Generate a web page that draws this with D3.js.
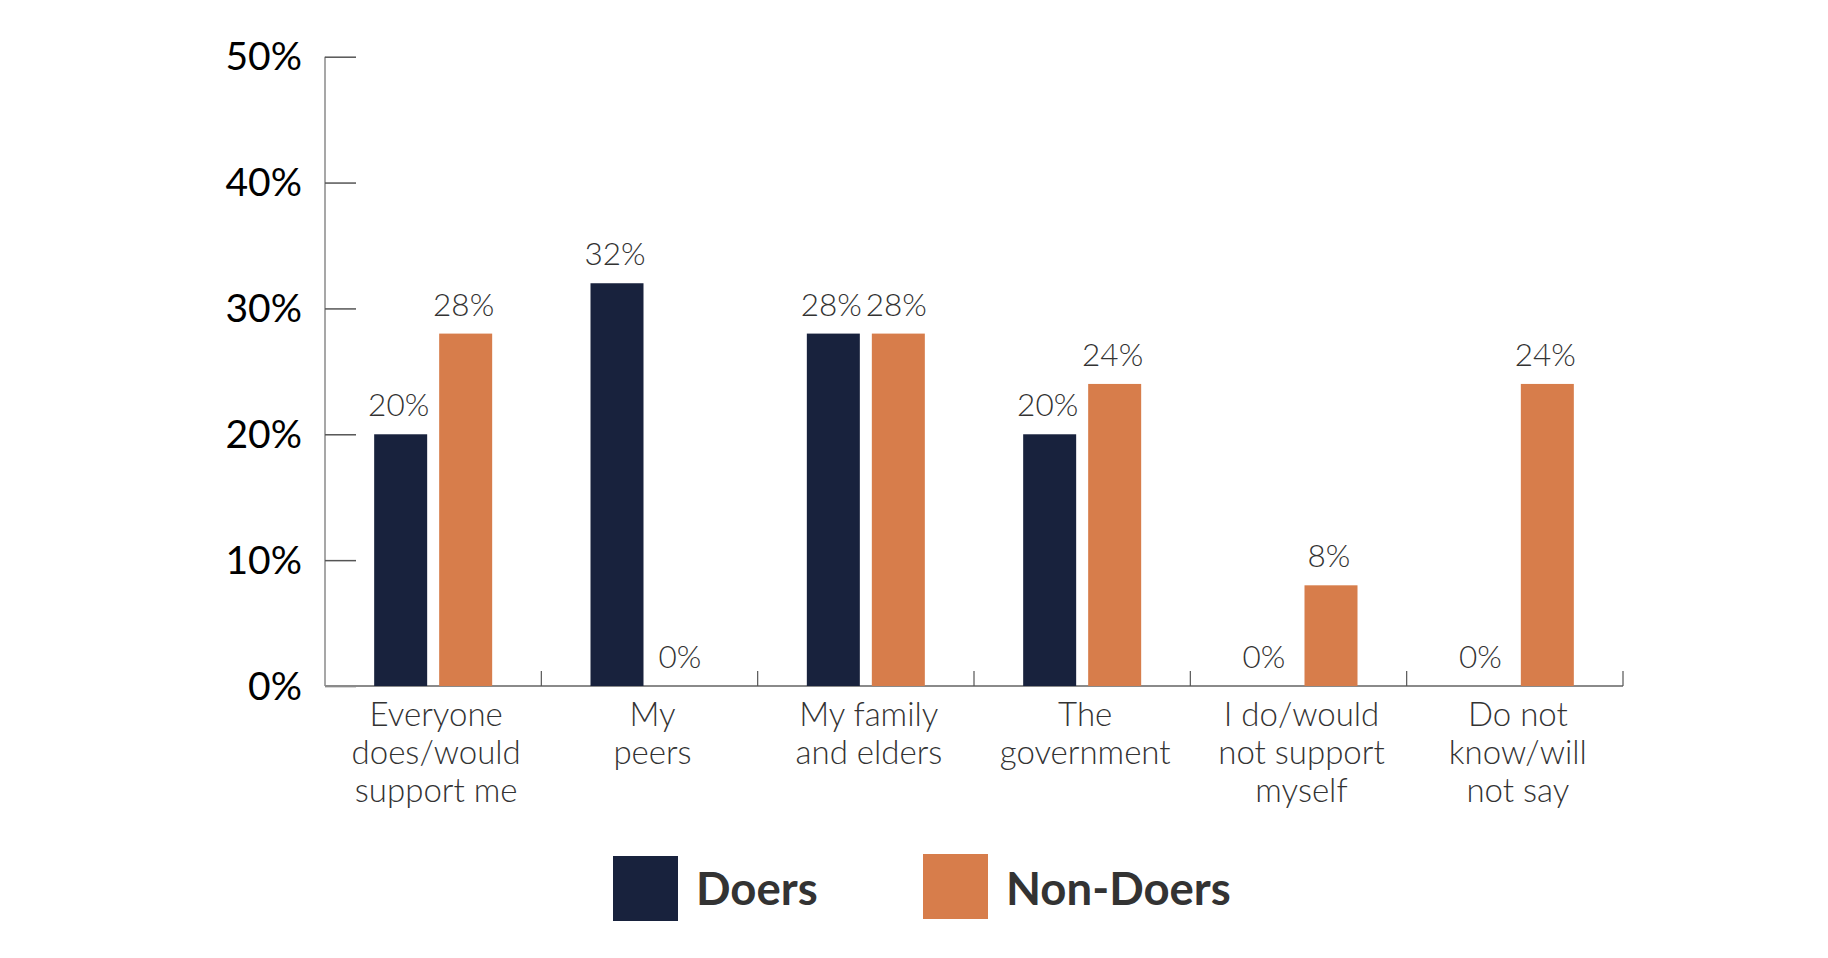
<!DOCTYPE html>
<html>
<head>
<meta charset="utf-8">
<script src="https://cdn.jsdelivr.net/npm/d3@7/dist/d3.min.js"></script>
<style>
  html, body { margin: 0; padding: 0; background: #fff; }
  svg { display: block; font-family: Lato, "Open Sans", sans-serif; }
</style>
</head>
<body>
<svg id="chart" width="1828" height="958"></svg>
<script>
const categories = [
  ["Everyone", "does/would", "support me"],
  ["My", "peers"],
  ["My family", "and elders"],
  ["The", "government"],
  ["I do/would", "not support", "myself"],
  ["Do not", "know/will", "not say"]
];
const seriesNames = ["Doers", "Non-Doers"];
const doers = [20, 32, 28, 20, 0, 0];
const nonDoers = [28, 0, 28, 24, 8, 24];
const yTicks = [0, 10, 20, 30, 40, 50];
const colors = ["#18223D", "#D77D4B"];

const svg = d3.select("#chart");
const mLeft = 325, mRight = 1623, mTop = 56.7, mBottom = 686;

const x = d3.scaleBand().domain(d3.range(categories.length)).range([mLeft, mRight]).padding(0);
const y = d3.scaleLinear().domain([0, 50]).range([mBottom, mTop]);
const barW = 53, gap = 12;
const xs = d3.scaleBand().domain([0, 1]).range([0, barW * 2 + gap]).paddingInner(gap / (barW + gap)).paddingOuter(0);

// y axis
const yAxis = svg.append("g").attr("transform", `translate(${mLeft},0)`)
  .call(d3.axisRight(y).tickValues(yTicks).tickSize(31).tickFormat(""));
yAxis.select(".domain").attr("stroke", "#8a8a8a").attr("stroke-width", 1.5).attr("d", `M0,${mBottom}V${mTop}`);
yAxis.selectAll(".tick line").attr("stroke", "#555").attr("stroke-width", 1.5);
svg.append("g").selectAll("text").data(yTicks).join("text")
  .attr("x", 302).attr("y", d => y(d)).attr("dy", "0.35em")
  .attr("text-anchor", "end").attr("font-size", 39).attr("fill", "#000")
  .text(d => d + "%");

// x axis
const boundaries = d3.range(categories.length + 1).map(i => i === categories.length ? mRight : x(i));
const xAxisG = svg.append("g");
xAxisG.append("line").attr("x1", mLeft).attr("x2", mRight).attr("y1", mBottom).attr("y2", mBottom)
  .attr("stroke", "#8a8a8a").attr("stroke-width", 2);
xAxisG.selectAll("line.t").data(boundaries.slice(1)).join("line").attr("class", "t")
  .attr("x1", d => d).attr("x2", d => d).attr("y1", mBottom).attr("y2", mBottom - 15)
  .attr("stroke", "#555").attr("stroke-width", 1.2);

// bars
const series = [doers, nonDoers];
const groups = svg.append("g").selectAll("g").data(categories).join("g")
  .attr("transform", (d, i) => `translate(${x(i) + x.bandwidth() / 2 - (barW * 2 + gap) / 2},0)`);
groups.each(function(d, i) {
  const g = d3.select(this);
  series.forEach((s, k) => {
    const v = s[i];
    if (v > 0) {
      g.append("rect").attr("x", xs(k)).attr("width", xs.bandwidth())
        .attr("y", y(v)).attr("height", y(0) - y(v)).attr("fill", colors[k]);
    }
    g.append("text").attr("x", xs(k) + xs.bandwidth() / 2 - 2).attr("y", y(v) - 18)
      .attr("text-anchor", "middle").attr("font-size", 31.5).attr("font-weight", 300)
      .attr("fill", "#333").text(v + "%");
  });
  const t = g.append("text").attr("text-anchor", "middle").attr("font-size", 33)
    .attr("font-weight", 300).attr("fill", "#333");
  d.forEach((line, j) => {
    t.append("tspan").attr("x", (barW * 2 + gap) / 2 + 3).attr("y", 726 + j * 38).text(line);
  });
});

// legend
const legendX = [613, 923];
const legend = svg.append("g").selectAll("g").data(seriesNames).join("g");
legend.append("rect").attr("x", (d, i) => legendX[i]).attr("y", (d, i) => i === 0 ? 856 : 854)
  .attr("width", 65).attr("height", 65).attr("fill", (d, i) => colors[i]);
legend.append("text").attr("x", (d, i) => legendX[i] + 83).attr("y", 905)
  .attr("font-size", 45.5).attr("font-weight", 700).attr("fill", "#333").text(d => d);
</script>
</body>
</html>
